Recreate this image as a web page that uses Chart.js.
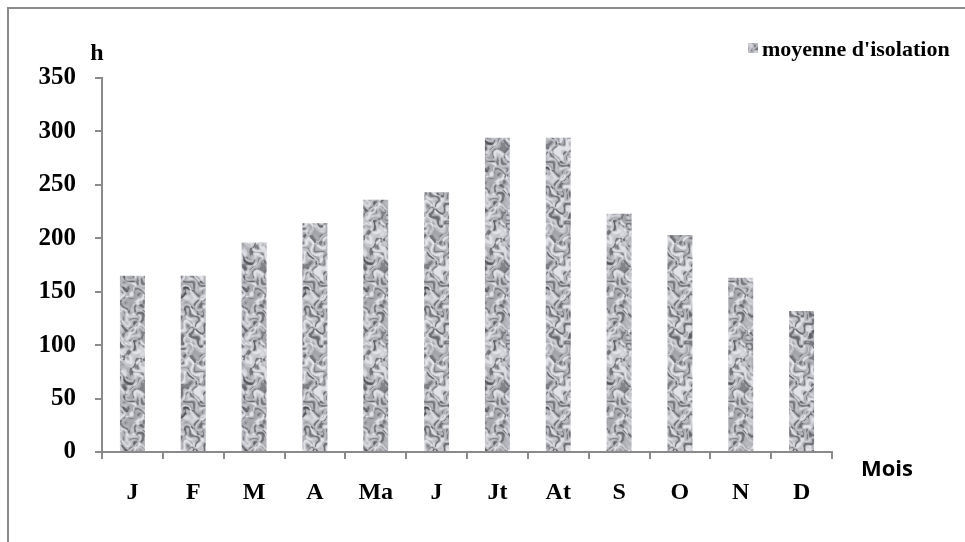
<!DOCTYPE html>
<html>
<head>
<meta charset="utf-8">
<script src="https://cdn.jsdelivr.net/npm/chart.js@4/dist/chart.umd.min.js"></script>
<style>
  html, body { margin: 0; padding: 0; background: #ffffff; }
  #wrap { width: 965px; height: 542px; }
</style>
</head>
<body>
<div id="wrap"><canvas id="c" width="965" height="542"></canvas></div>
<script>
// ---- data ----
const categories = ['J', 'F', 'M', 'A', 'Ma', 'J', 'Jt', 'At', 'S', 'O', 'N', 'D'];
const insolationHours = [165, 165, 196, 214, 236, 243, 294, 294, 223, 203, 163, 132];
const seriesLabel = "moyenne d'isolation";
const yAxisTitle = 'h';
const xAxisTitle = 'Mois';
const yTicks = [0, 50, 100, 150, 200, 250, 300, 350];

// ---- deterministic grey "marble" texture for the bars ----
function makeTexture() {
  const s = 120;
  const cv = document.createElement('canvas');
  cv.width = s; cv.height = s;
  const ctx = cv.getContext('2d');
  const img = ctx.createImageData(s, s);
  const k = 2 * Math.PI / s;
  const waves = [
    [3, 5, 0.3, 1.0], [7, -4, 1.7, 0.8], [-6, 9, 2.9, 0.7], [11, 3, 0.9, 0.6],
    [5, 12, 4.1, 0.55], [-13, 7, 5.3, 0.5], [9, -11, 3.3, 0.45], [15, 14, 1.2, 0.35]
  ];
  for (let y = 0; y < s; y++) {
    for (let x = 0; x < s; x++) {
      // domain warp
      const wx = x + 6 * Math.sin(y * k * 4 + 0.5) + 4 * Math.sin((x + y) * k * 6);
      const wy = y + 6 * Math.cos(x * k * 5 + 1.2) + 4 * Math.cos((x - y) * k * 7);
      let v = 0, t = 0;
      for (const [fx, fy, ph, amp] of waves) {
        v += amp * Math.sin((fx * wx + fy * wy) * k + ph);
        t += amp;
      }
      v /= t; // -1..1 roughly
      // dark spots where v low, light elsewhere
      let g = 185 + v * 95;
      if (v < -0.25) g -= 25;
      g = Math.max(70, Math.min(228, g));
      const i = (y * s + x) * 4;
      img.data[i] = g - 3;
      img.data[i + 1] = g - 3;
      img.data[i + 2] = g + 4;
      img.data[i + 3] = 255;
    }
  }
  ctx.putImageData(img, 0, 0);
  return ctx.createPattern(cv, 'repeat');
}

const mainCtx = document.getElementById('c').getContext('2d');
const texture = makeTexture();

const AXIS_GREY = '#8a8a8a';
const serif = "'Liberation Serif', 'Times New Roman', serif";

const decorPlugin = {
  id: 'decor',
  beforeDraw(chart) {
    const ctx = chart.ctx;
    ctx.save();
    ctx.fillStyle = '#ffffff';
    ctx.fillRect(0, 0, chart.width, chart.height);
    ctx.strokeStyle = '#8c8c8c';
    ctx.lineWidth = 2;
    ctx.beginPath();
    ctx.moveTo(8, chart.height);
    ctx.lineTo(8, 8);
    ctx.lineTo(chart.width, 8);
    ctx.stroke();
    ctx.restore();
  },
  afterDraw(chart) {
    const ctx = chart.ctx;
    ctx.save();
    // axis titles
    ctx.fillStyle = '#000';
    ctx.font = 'bold 24px ' + serif;
    ctx.textAlign = 'center';
    ctx.textBaseline = 'alphabetic';
    ctx.fillText(yAxisTitle, 97, 60);
    ctx.font = "bold 22px 'Open Sans', 'Liberation Sans', sans-serif";
    ctx.textAlign = 'left';
    ctx.fillText(xAxisTitle, 861, 476);
    // legend
    ctx.fillStyle = texture;
    ctx.fillRect(748, 43, 10, 10);
    ctx.fillStyle = '#000';
    ctx.font = 'bold 22px ' + serif;
    ctx.textAlign = 'left';
    ctx.fillText(chart.data.datasets[0].label, 762, 56);
    ctx.restore();
  }
};

new Chart(mainCtx, {
  type: 'bar',
  data: {
    labels: categories,
    datasets: [{
      label: seriesLabel,
      data: insolationHours,
      backgroundColor: texture,
      borderWidth: 0,
      barPercentage: 0.41,
      categoryPercentage: 1.0
    }]
  },
  options: {
    responsive: false,
    animation: false,
    layout: { padding: { left: 0, top: 78, right: 133, bottom: 0 } },
    plugins: {
      legend: { display: false },
      tooltip: { enabled: false },
      title: { display: false }
    },
    scales: {
      x: {
        grid: {
          display: true,
          offset: true,
          drawOnChartArea: false,
          drawTicks: true,
          tickLength: 7,
          color: AXIS_GREY,
          lineWidth: 2
        },
        border: { display: true, color: AXIS_GREY, width: 2 },
        ticks: {
          color: '#000',
          font: { family: serif, size: 24, weight: 'bold' },
          padding: 19,
          maxRotation: 0,
          autoSkip: false
        },
        afterFit(scale) { scale.height = 90; }
      },
      y: {
        min: 0,
        max: 350,
        afterBuildTicks(scale) { scale.ticks = yTicks.map(v => ({ value: v })); },
        grid: {
          display: true,
          drawOnChartArea: false,
          drawTicks: true,
          tickLength: 7,
          color: AXIS_GREY,
          lineWidth: 2
        },
        border: { display: true, color: AXIS_GREY, width: 2 },
        ticks: {
          color: '#000',
          font: { family: serif, size: 25, weight: 'bold' },
          padding: 19
        },
        afterFit(scale) { scale.width = 102; }
      }
    }
  },
  plugins: [decorPlugin]
});
</script>
</body>
</html>
